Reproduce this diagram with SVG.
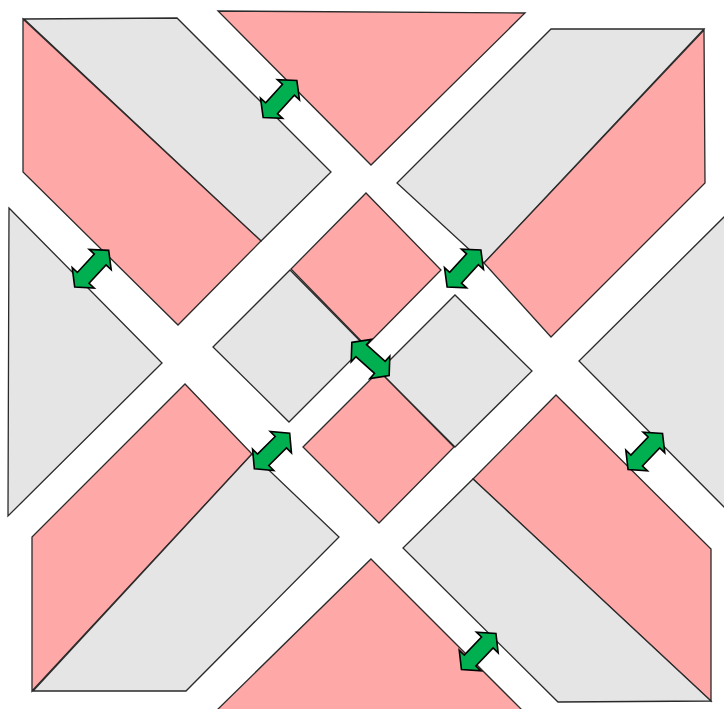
<svg xmlns="http://www.w3.org/2000/svg" xmlns:xlink="http://www.w3.org/1999/xlink" width="724" height="709" viewBox="0 0 724 709">
<style>
.p{fill:#FFA8A8;stroke:#2a2a2a;stroke-width:1.3;stroke-linejoin:miter}
.g{fill:#E5E5E5;stroke:#2a2a2a;stroke-width:1.3;stroke-linejoin:miter}
.a{fill:#00B050;stroke:#000;stroke-width:1.6;stroke-linejoin:miter}
</style>
<defs>
<path id="arr" class="a" d="M-25,0 L-12.5,-15 L-12.5,-8 L12.5,-8 L12.5,-15 L25,0 L12.5,15 L12.5,8 L-12.5,8 L-12.5,15 Z"/>
</defs>
<rect width="724" height="709" fill="#fff"/>
<g id="top-left">
<polygon class="g" points="24,19 177,18 331,172 261,241"/>
<polygon class="p" points="23,19 261,241 178,325 23,172"/>
</g>
<g id="top-triangle">
<polygon class="p" points="218,11 525,13 371,165"/>
</g>
<g id="top-right">
<polygon class="g" points="551,29 704,29 484,263 397,183"/>
<polygon class="p" points="704,30 705,183 551,337 484,263"/>
</g>
<g id="left-triangle">
<polygon class="g" points="9,208 162,363 8,516"/>
</g>
<g id="right-triangle">
<polygon class="g" points="726,215 579,361 726,509"/>
</g>
<g id="center-top">
<polygon class="p" points="366,193 441,270 366,346 291,269"/>
</g>
<g id="center-left">
<polygon class="g" points="213,347 290,270 365,346 289,422"/>
</g>
<g id="center-right">
<polygon class="g" points="379,371 455,295 532,371 455,447"/>
</g>
<g id="center-bottom">
<polygon class="p" points="303,447 379,371 454,447 379,523"/>
</g>
<g id="bottom-left">
<polygon class="p" points="185,384 252,454 32,691 32,537"/>
<polygon class="g" points="252,454 339,537 186,691 33,691"/>
</g>
<g id="bottom-right">
<polygon class="p" points="556,395 711,549 711,701 473,479"/>
<polygon class="g" points="473,479 711,701 558,702 403,548"/>
</g>
<g id="bottom-triangle">
<polygon class="p" points="371,559 524,712 215,712"/>
</g>
<g id="connectors">
<use xlink:href="#arr" transform="translate(280,99) rotate(-47.6)"/>
<use xlink:href="#arr" transform="translate(91.7,268.7) rotate(-47.2)"/>
<use xlink:href="#arr" transform="translate(464,268.5) rotate(-47.5)"/>
<use xlink:href="#arr" transform="translate(370.5,359) rotate(41.7)"/>
<use xlink:href="#arr" transform="translate(272,451) rotate(-45)"/>
<use xlink:href="#arr" transform="translate(645.3,451.5) rotate(-46.4)"/>
<use xlink:href="#arr" transform="translate(478.7,651.5) rotate(-46.4)"/>
</g>
</svg>
